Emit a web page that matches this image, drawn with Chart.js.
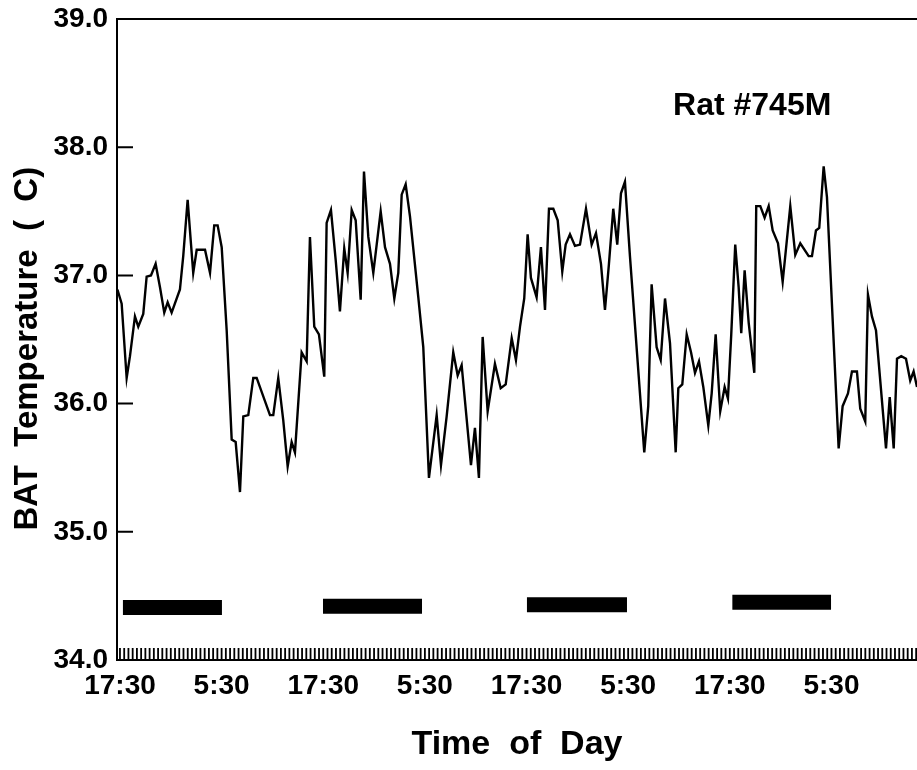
<!DOCTYPE html>
<html>
<head>
<meta charset="utf-8">
<script src="https://cdn.jsdelivr.net/npm/chart.js@4.4.1/dist/chart.umd.min.js"></script>
<style>
  html, body { margin: 0; padding: 0; background: #fff; }
  #wrap { width: 917px; height: 770px; }
</style>
</head>
<body>
<div id="wrap"><canvas id="batChart" width="917" height="770"></canvas></div>
<script>
// hours after the first 17:30 and the BAT temperature (deg C)
const hours = [
  -0.3, 0.20, 0.79, 1.18, 1.77, 2.16, 2.75, 3.15, 3.66, 4.21, 4.72, 5.23, 5.63, 6.10, 7.08, 7.47,
  7.99, 8.38, 8.65, 9.06, 10.04, 10.63, 11.13, 11.53, 12.01, 12.60, 13.19, 13.66, 14.17, 14.56,
  15.15, 15.74, 16.14, 17.71, 18.10, 18.69, 19.28, 19.80, 20.27, 20.66, 21.45, 22.04, 22.43, 22.94,
  23.49, 24.12, 24.40, 24.91, 25.47, 25.97, 26.48, 26.88, 27.36, 27.83, 28.42, 28.81, 29.32, 29.91,
  30.78, 31.29, 31.88, 32.39, 32.86, 33.26, 33.73, 34.24, 35.22, 35.81, 36.48, 37.39, 37.90, 38.57,
  39.35, 39.87, 40.34, 41.44, 41.91, 42.38, 42.82, 43.41, 44.27, 44.95, 45.54, 46.25, 46.75, 47.23,
  47.73, 48.13, 48.52, 49.19, 49.70, 50.18, 50.65, 51.16, 51.68, 52.22, 52.62, 53.13, 53.72, 54.31,
  55.02, 55.69, 56.20, 56.79, 57.26, 57.73, 58.24, 58.71, 59.15, 59.62, 60.21, 61.90, 62.37, 62.77,
  63.36, 63.84, 64.35, 64.94, 65.61, 65.92, 66.39, 66.91, 67.42, 67.89, 68.36, 68.87, 69.46, 69.86,
  70.33, 70.87, 71.39, 71.78, 72.17, 72.64, 73.04, 73.35, 73.75, 74.23, 74.89, 75.12, 75.60, 76.11,
  76.59, 77.06, 77.69, 78.24, 79.14, 79.73, 80.32, 81.31, 81.70, 82.17, 82.56, 83.08, 83.47, 84.85,
  85.32, 85.95, 86.42, 87.01, 87.40, 87.99, 88.31, 88.78, 89.26, 90.44, 90.88, 91.35, 91.74, 92.24,
  92.80, 93.30, 93.70, 94.10
];
const batTemp = [
  36.89, 36.78, 36.20, 36.37, 36.68, 36.60, 36.70, 36.99, 37.00, 37.09, 36.91, 36.71, 36.79, 36.71, 36.89, 37.15,
  37.59, 37.25, 37.02, 37.20, 37.20, 37.02, 37.39, 37.39, 37.22, 36.57, 35.72, 35.70, 35.31, 35.90,
  35.91, 36.20, 36.20, 35.91, 35.91, 36.20, 35.87, 35.51, 35.70, 35.62, 36.40, 36.33, 37.30, 36.60,
  36.54, 36.21, 37.41, 37.51, 37.12, 36.72, 37.21, 37.02, 37.51, 37.43, 36.81, 37.81, 37.30, 37.02,
  37.50, 37.22, 37.09, 36.82, 37.02, 37.63, 37.71, 37.46, 36.83, 36.44, 35.42, 35.91, 35.52, 35.90,
  36.40, 36.22, 36.30, 35.52, 35.81, 35.42, 36.52, 35.94, 36.31, 36.12, 36.15, 36.51, 36.34, 36.60,
  36.82, 37.32, 36.98, 36.83, 37.22, 36.73, 37.52, 37.52, 37.43, 37.03, 37.24, 37.32, 37.23, 37.24,
  37.52, 37.24, 37.33, 37.09, 36.73, 37.09, 37.52, 37.24, 37.64, 37.73, 37.15, 35.62, 35.98, 36.93,
  36.44, 36.34, 36.82, 36.47, 35.62, 36.12, 36.15, 36.54, 36.40, 36.24, 36.33, 36.13, 35.83, 36.08,
  36.54, 35.94, 36.13, 36.04, 36.54, 37.24, 36.91, 36.55, 37.04, 36.63, 36.24, 37.54, 37.54, 37.45,
  37.54, 37.35, 37.25, 36.95, 37.54, 37.16, 37.25, 37.15, 37.15, 37.35, 37.37, 37.85, 37.61, 35.65,
  35.98, 36.08, 36.25, 36.25, 35.96, 35.86, 36.85, 36.68, 36.57, 35.65, 36.05, 35.65, 36.35, 36.37,
  36.35, 36.18, 36.25, 36.13
];

// dark phases (black bars near the bottom)
const nightStart = [0.35, 23.97, 48.05, 72.30];
const nightEnd = [12.04, 35.66, 59.86, 83.95];
const nightLevel = [34.41, 34.42, 34.43, 34.45];

const tickHours = [0, 12, 24, 36, 48, 60, 72, 84];
const tickLabels = ["17:30", "5:30", "17:30", "5:30", "17:30", "5:30", "17:30", "5:30"];
const yTicks = [34, 35, 36, 37, 38, 39];
const plotLabel = "Rat #745M";

const FONT = '"Liberation Sans", Arial, Helvetica, sans-serif';

const tempPoints = hours.map((h, i) => ({ x: h, y: batTemp[i] }));
const nightPoints = [];
nightStart.forEach((s, i) => {
    nightPoints.push({ x: s, y: nightLevel[i] });
    nightPoints.push({ x: nightEnd[i], y: nightLevel[i] });
    nightPoints.push({ x: nightEnd[i] + 0.01, y: null });
});

// frame top, inward ticks, half-hour rug on the time axis, rat label
const decorPlugin = {
    id: 'decor',
    afterDatasetsDraw(chart) {
        const { ctx, chartArea: a, scales: { x, y } } = chart;
        ctx.save();
        ctx.strokeStyle = '#000';
        ctx.lineWidth = 2;
        ctx.beginPath();
        ctx.moveTo(a.left, a.top);
        ctx.lineTo(a.right, a.top);
        yTicks.forEach(v => {
            const py = y.getPixelForValue(v);
            ctx.moveTo(a.left, py);
            ctx.lineTo(a.left + 16, py);
        });
        ctx.stroke();

        ctx.lineWidth = 1.8;
        ctx.beginPath();
        for (let h = 0; h <= x.max; h += 0.5) {
            const px = x.getPixelForValue(h);
            ctx.moveTo(px, a.bottom);
            ctx.lineTo(px, a.bottom - 12);
        }
        ctx.stroke();

        ctx.fillStyle = '#000';
        ctx.font = 'bold 32px ' + FONT;
        ctx.textAlign = 'left';
        ctx.textBaseline = 'middle';
        ctx.fillText(plotLabel, x.getPixelForValue(65.3), y.getPixelForValue(38.32));
        ctx.restore();
    }
};

new Chart(document.getElementById('batChart'), {
    type: 'line',
    data: {
        datasets: [
            {
                label: 'BAT temperature',
                data: tempPoints,
                borderColor: '#000',
                borderWidth: 2.4,
                pointRadius: 0,
                tension: 0,
                fill: false
            },
            {
                label: 'Dark phase',
                data: nightPoints,
                borderColor: '#000',
                borderWidth: 15,
                borderCapStyle: 'butt',
                pointRadius: 0,
                spanGaps: false,
                fill: false
            }
        ]
    },
    options: {
        responsive: false,
        animation: false,
        layout: { padding: { top: 19, right: 0, bottom: 0, left: 0 } },
        plugins: { legend: { display: false }, tooltip: { enabled: false } },
        scales: {
            x: {
                type: 'linear',
                min: -0.35,
                max: 94.1,
                afterBuildTicks: s => { s.ticks = tickHours.map(v => ({ value: v })); },
                afterFit: s => { s.height = 110; s.paddingLeft = 0; s.paddingRight = 0; },
                ticks: {
                    autoSkip: false,
                    maxRotation: 0,
                    padding: 9,
                    color: '#000',
                    font: { family: FONT, size: 28, weight: 'bold' },
                    callback: v => tickLabels[tickHours.indexOf(v)]
                },
                grid: { display: true, drawOnChartArea: false, drawTicks: false },
                border: { color: '#000', width: 2 },
                title: {
                    display: true,
                    text: 'Time  of  Day',
                    color: '#000',
                    font: { family: FONT, size: 34, weight: 'bold' },
                    padding: { top: 0, bottom: 5 }
                }
            },
            y: {
                min: 34,
                max: 39,
                afterBuildTicks: s => { s.ticks = yTicks.map(v => ({ value: v })); },
                afterFit: s => { s.width = 117; s.paddingTop = 0; s.paddingBottom = 0; },
                ticks: {
                    padding: 9,
                    color: '#000',
                    font: { family: FONT, size: 28, weight: 'bold' },
                    callback: v => v.toFixed(1)
                },
                grid: { display: true, drawOnChartArea: false, drawTicks: false },
                border: { color: '#000', width: 2 },
                title: {
                    display: true,
                    text: 'BAT  Temperature  (  C)  ',
                    color: '#000',
                    font: { family: FONT, size: 33, weight: 'bold' },
                    padding: { top: 8, bottom: 0 }
                }
            }
        }
    },
    plugins: [decorPlugin]
});
</script>
</body>
</html>
